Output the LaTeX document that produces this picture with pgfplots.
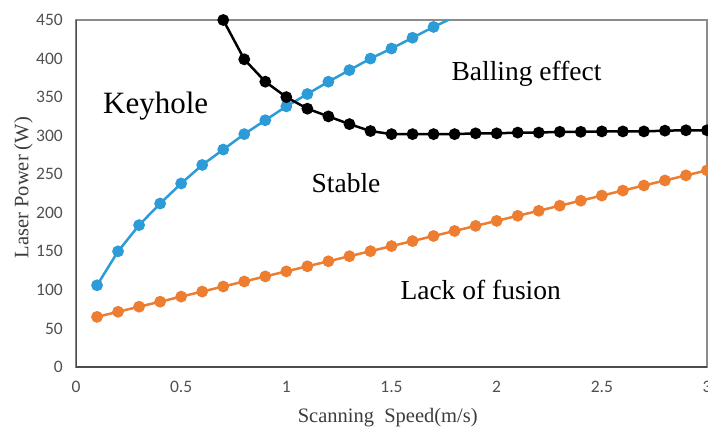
\documentclass[border=0pt]{standalone}
\usepackage{pgfplots}
\pgfplotsset{compat=1.18}
\usepackage{fontspec}
\setmainfont{Liberation Serif}
\newfontfamily\tickfont{Carlito}
\definecolor{cblue}{RGB}{45,155,215}
\definecolor{corange}{RGB}{237,125,49}
\definecolor{tickgray}{RGB}{80,80,80}
\definecolor{labgray}{RGB}{60,60,60}

\pgfplotstableread{
x y
0.1 65.0
0.2 71.6
0.3 78.2
0.4 84.7
0.5 91.3
0.6 97.8
0.7 104.4
0.8 110.9
0.9 117.5
1.0 124.0
1.1 130.6
1.2 137.1
1.3 143.7
1.4 150.2
1.5 156.8
1.6 163.3
1.7 169.9
1.8 176.4
1.9 183.0
2.0 189.5
2.1 196.1
2.2 202.6
2.3 209.2
2.4 215.7
2.5 222.3
2.6 228.8
2.7 235.4
2.8 241.9
2.9 248.5
3.0 255.0
}\lackdata

\pgfplotstableread{
x y
0.1 106
0.2 150
0.3 184
0.4 212
0.5 238
0.6 262
0.7 282
0.8 302
0.9 320
1.0 338
1.1 354
1.2 370
1.3 385
1.4 400
1.5 413
1.6 427
1.7 441
1.8 454
}\keyholedata

\pgfplotstableread{
x y
0.7 450
0.8 399
0.9 370
1.0 350
1.1 335
1.2 325
1.3 315
1.4 306
1.5 302
1.6 302
1.7 302
1.8 302
1.9 303
2.0 303
2.1 304
2.2 304
2.3 305
2.4 305
2.5 305.5
2.6 305.5
2.7 305.5
2.8 306.5
2.9 307
3.0 307
}\ballingdata

\begin{document}
\begin{tikzpicture}
\useasboundingbox (-76pt,-59pt) rectangle (632pt,367pt);
\begin{axis}[
  at={(0pt,0pt)}, anchor=south west,
  scale only axis, width=631pt, height=347pt,
  xmin=0, xmax=3, ymin=0, ymax=450,
  xtick={0,0.5,1,1.5,2,2.5,3},
  xticklabels={0,0.5,1,1.5,2,2.5,3},
  ytick={0,50,...,450},
  major tick length=0pt,
  /pgf/number format/assume math mode=true,
  tick label style={font=\fontsize{17.5}{19}\selectfont\tickfont, text=tickgray, inner sep=0pt},
  xticklabel shift=14pt,
  yticklabel shift=13pt,
  axis line style={draw=black!45, line width=1.2pt},
  xlabel={Scanning\ \ Speed(m/s)},
  ylabel={Laser Power (W)},
  label style={font=\fontsize{20.5}{22}\selectfont, text=labgray},
  xlabel style={at={(axis description cs:0.494,-0.147)}, anchor=center},
  ylabel style={at={(axis description cs:-0.0832,0.517)}, anchor=center},
  every axis plot/.append style={line width=2.5pt, mark=*, mark size=4.6pt},
]
\addplot[color=corange, mark options={fill=corange, draw=corange}] table {\lackdata};
\addplot[color=cblue, mark options={fill=cblue, draw=cblue}] table {\keyholedata};
\addplot[color=black, mark options={fill=black, draw=black}] table {\ballingdata};
\draw[black!70, line width=2pt] (rel axis cs:0,1) -- (rel axis cs:0,0) -- (rel axis cs:1,0);
\node[font=\fontsize{31}{33}\selectfont, anchor=base] at (axis cs:0.379,329) {Keyhole};
\node[font=\fontsize{27.5}{30}\selectfont, anchor=base] at (axis cs:2.142,372) {Balling effect};
\node[font=\fontsize{27.5}{30}\selectfont, anchor=base] at (axis cs:1.284,226) {Stable};
\node[font=\fontsize{27.5}{30}\selectfont, anchor=base] at (axis cs:1.924,88) {Lack of fusion};
\end{axis}
\end{tikzpicture}
\end{document}
